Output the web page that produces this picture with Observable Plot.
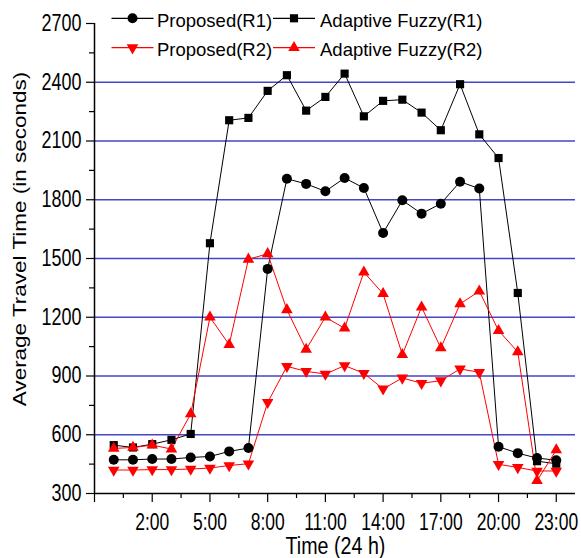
<!DOCTYPE html>
<html><head><meta charset="utf-8">
<script src="https://cdn.jsdelivr.net/npm/d3@7"></script>
<script src="https://cdn.jsdelivr.net/npm/@observablehq/plot@0.6"></script>
<style>
html,body{margin:0;padding:0;background:#fff;}
#chart{width:581px;height:558px;}
</style></head><body><div id="chart"></div>
<script>
// ---- data ----
const hours = [0,1,2,3,4,5,6,7,8,9,10,11,12,13,14,15,16,17,18,19,20,21,22,23];
const proposedR1 = [472,472,476,476,484,489,515,532,1447,1907,1881,1843,1911,1860,1630,1797,1729,1780,1892,1857,539,506,481,470];
const adaptiveR1 = [547,535,552,574,604,1578,2206,2218,2356,2436,2255,2325,2444,2226,2305,2311,2245,2155,2390,2134,2013,1324,465,452];
const proposedR2 = [420,420,422,422,425,430,443,452,765,949,924,910,953,914,834,890,863,876,936,919,449,433,415,415];
const adaptiveR2 = [530,535,547,527,706,1200,1060,1496,1524,1238,1036,1200,1144,1430,1320,1009,1252,1043,1268,1333,1132,1023,365,522];
const seriesNames = ["Proposed(R1)","Adaptive Fuzzy(R1)","Proposed(R2)","Adaptive Fuzzy(R2)"];
const xMajorTicks = [-1,2,5,8,11,14,17,20,23];
const xMinorTicks = [0.5,3.5,6.5,9.5,12.5,15.5,18.5,21.5];
const yMajorTicks = [300,600,900,1200,1500,1800,2100,2400,2700];
const yMinorTicks = [450,750,1050,1350,1650,1950,2250,2550];
const gridValues = [600,900,1200,1500,1800,2100,2400];
const xLabel = "Time (24 h)";
const yLabel = "Average Travel Time (in seconds)";

// downward triangle symbol
const sqrt3 = Math.sqrt(3);
const triangleDown = {
  draw(context, size) {
    const y = -Math.sqrt(size / (sqrt3 * 3));
    context.moveTo(0, -y * 2);
    context.lineTo(-sqrt3 * y, y);
    context.lineTo(sqrt3 * y, y);
    context.closePath();
  }
};

const series = [
  {name: seriesNames[0], values: proposedR1, color: "#000000", symbol: "circle", r: 5},
  {name: seriesNames[1], values: adaptiveR1, color: "#000000", symbol: "square", r: 4.6},
  {name: seriesNames[3], values: adaptiveR2, color: "#ff0000", symbol: "triangle", r: 4.3},
  {name: seriesNames[2], values: proposedR2, color: "#ff0000", symbol: triangleDown, r: 4.3}
];
const rowsOf = s => hours.map((h, i) => ({hour: h, value: s.values[i]}));

const marks = [
  Plot.ruleY(gridValues, {stroke: "#4646c8", strokeWidth: 1.3}),
  ...series.map(s => Plot.line(rowsOf(s), {x: "hour", y: "value", stroke: s.color, strokeWidth: 1})),
  ...series.map(s => Plot.dot(rowsOf(s), {x: "hour", y: "value", fill: s.color, stroke: "none", r: s.r, symbol: s.symbol})),
  Plot.axisX({ticks: xMajorTicks, tickSize: 9, tickPadding: 11, tickFormat: d => d < 0 ? "" : d + ":00", label: null, stroke: "#000", strokeWidth: 1.2}),
  Plot.axisX({ticks: xMinorTicks, tickSize: 5, tickFormat: () => "", label: null, strokeWidth: 1.2}),
  Plot.axisY({ticks: yMajorTicks, tickSize: 8, tickPadding: 5, tickFormat: d => String(d), label: null, strokeWidth: 1.2}),
  Plot.axisY({ticks: yMinorTicks, tickSize: 5, tickFormat: () => "", label: null, strokeWidth: 1.2}),
  Plot.ruleX([-1], {stroke: "#000", strokeWidth: 1.5}),
  Plot.ruleY([300], {stroke: "#000", strokeWidth: 1.5})
];

const svg = Plot.plot({
  width: 581, height: 558,
  marginTop: 23, marginBottom: 65, marginLeft: 94, marginRight: 6,
  x: {domain: [-1, 24]},
  y: {domain: [300, 2700]},
  style: {fontFamily: "'Liberation Sans', Arial, sans-serif", fontSize: "23px", color: "#000", background: "#fff", overflow: "visible"},
  marks
});
document.getElementById("chart").appendChild(svg);

// condense tick labels horizontally (textLength keeps Plot's own positioning)
function condense(sel, sx) {
  d3.select(svg).selectAll(sel).each(function() {
    if (!this.textContent) return;
    const w = this.getComputedTextLength();
    this.setAttribute("textLength", (w * sx).toFixed(2));
    this.setAttribute("lengthAdjust", "spacingAndGlyphs");
  });
}
condense('g[aria-label="x-axis tick label"] text', 0.76);
condense('g[aria-label="y-axis tick label"] text', 0.78);

const root = d3.select(svg);
root.append("text").text(xLabel)
  .attr("transform", "translate(335.5,554) scale(0.82,1)")
  .attr("text-anchor", "middle").attr("font-size", 24).attr("fill", "#000");
root.append("text").text(yLabel)
  .attr("transform", "translate(26,239) rotate(-90) scale(1,0.78)")
  .attr("text-anchor", "middle").attr("font-size", 22.5).attr("fill", "#000");

// legend
const legendItems = [
  {name: seriesNames[0], color: "#000", symbol: d3.symbolCircle, size: Math.PI * 25, cx: 132.5, cy: 18.3, tx: 157, ty: 26.7},
  {name: seriesNames[1], color: "#000", symbol: d3.symbolSquare, size: Math.PI * 4.6 * 4.6, cx: 294, cy: 18.3, tx: 320, ty: 26.7},
  {name: seriesNames[2], color: "#ff0000", symbol: triangleDown, size: Math.PI * 4.3 * 4.3, cx: 132.5, cy: 47.7, tx: 157, ty: 56},
  {name: seriesNames[3], color: "#ff0000", symbol: d3.symbolTriangle, size: Math.PI * 4.3 * 4.3, cx: 294, cy: 47.7, tx: 320, ty: 56}
];
const lg = root.append("g").attr("aria-label", "legend").attr("text-anchor", "start");
for (const it of legendItems) {
  lg.append("line").attr("x1", it.cx - 21).attr("x2", it.cx + 21).attr("y1", it.cy).attr("y2", it.cy)
    .attr("stroke", it.color).attr("stroke-width", 1.2);
  lg.append("path").attr("d", d3.symbol(it.symbol, it.size)()).attr("transform", `translate(${it.cx},${it.cy})`).attr("fill", it.color);
  lg.append("text").text(it.name).attr("x", it.tx).attr("y", it.ty).attr("font-size", 18.5).attr("fill", "#000").attr("text-anchor", "start");
}
</script></body></html>
